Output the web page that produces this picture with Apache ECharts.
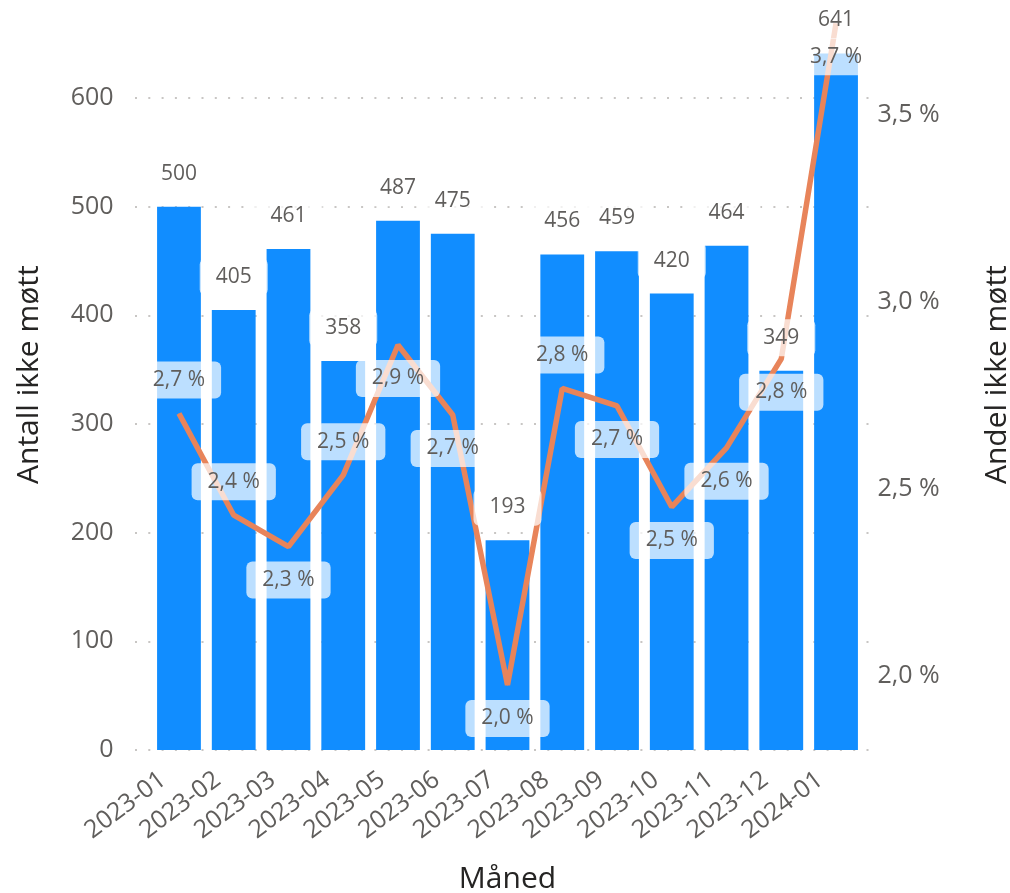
<!DOCTYPE html>
<html>
<head>
<meta charset="utf-8">
<script src="https://cdn.jsdelivr.net/npm/echarts@6/dist/echarts.min.js"></script>
<style>html,body{margin:0;padding:0;background:#fff}#c{width:1010px;height:893px}</style>
</head>
<body>
<div id="c"></div>
<script>
const categories = ['2023-01','2023-02','2023-03','2023-04','2023-05','2023-06','2023-07','2023-08','2023-09','2023-10','2023-11','2023-12','2024-01'];
const antall = [500, 405, 461, 358, 487, 475, 193, 456, 459, 420, 464, 349, 641];
const andel = [2.702, 2.430, 2.346, 2.537, 2.885, 2.698, 1.976, 2.769, 2.722, 2.452, 2.610, 2.848, 3.745];
const leftTicks = [0, 100, 200, 300, 400, 500, 600];
const rightTicks = [2.0, 2.5, 3.0, 3.5];

// label placement for the line labels (style, not data)
const lineLabelBelow = [false, false, true, false, true, true, true, false, true, true, true, true, true];

const FONT = '"Segoe UI", "Open Sans", sans-serif';
const GRAY = '#605E5C';
const DARK = '#252423';
const fmtPct = v => v.toFixed(1).replace('.', ',') + ' %';

const gridTop = -10.7, gridBottom = 143;
const leftMax = 700;
const rightMin = 1.80214, rightMax = 3.8361;

const labelBox = {
  backgroundColor: 'rgba(255,255,255,0.72)',
  borderRadius: 6,
  padding: [8, 16],
  fontSize: 21,
  color: GRAY,
  fontFamily: FONT
};

const chart = echarts.init(document.getElementById('c'), null, {renderer: 'canvas'});
chart.setOption({
  animation: false,
  backgroundColor: '#fff',
  grid: [
    {left: 151.6, right: 146.6, top: gridTop, bottom: gridBottom, outerBoundsMode: 'none', containLabel: false},
    {left: 135, right: 133, top: gridTop, bottom: gridBottom, outerBoundsMode: 'none', containLabel: false}
  ],
  xAxis: [
    {
      type: 'category', gridIndex: 0, data: categories,
      axisLine: {show: false}, axisTick: {show: false},
      axisLabel: {rotate: 37, fontSize: 25, color: GRAY, fontFamily: FONT, margin: 15, padding: [0, 20, 0, 0], interval: 0},
      name: 'Måned', nameLocation: 'middle', nameGap: 114,
      nameTextStyle: {fontSize: 30, color: DARK, fontFamily: FONT}
    },
    {type: 'value', gridIndex: 1, show: false, min: 0, max: 1}
  ],
  yAxis: [
    {
      type: 'value', gridIndex: 0, min: 0, max: leftMax, interval: 100,
      axisLine: {show: false}, axisTick: {show: false}, splitLine: {show: false},
      axisLabel: {fontSize: 25, color: GRAY, fontFamily: FONT, margin: 38, showMaxLabel: false,
        formatter: v => leftTicks.includes(v) ? String(v) : ''},
      name: 'Antall ikke møtt', nameLocation: 'middle', nameRotate: 90, nameGap: 107,
      nameTextStyle: {fontSize: 30, color: DARK, fontFamily: FONT, padding: [0, 10, 0, 0]}
    },
    {
      type: 'value', gridIndex: 0, position: 'right', min: rightMin, max: rightMax,
      axisLine: {show: false}, axisTick: {show: false}, splitLine: {show: false},
      axisLabel: {customValues: rightTicks, fontSize: 25, color: GRAY, fontFamily: FONT, margin: 14, formatter: fmtPct},
      name: 'Andel ikke møtt', nameLocation: 'middle', nameRotate: 90, nameGap: 119,
      nameTextStyle: {fontSize: 30, color: DARK, fontFamily: FONT, padding: [0, 10, 0, 0]}
    },
    {
      type: 'value', gridIndex: 1, min: 0, max: leftMax, interval: 100,
      axisLine: {show: false}, axisTick: {show: false}, axisLabel: {show: false},
      splitLine: {show: true, lineStyle: {color: '#C8C6C4', width: 2, type: [2, 11.3]}}
    }
  ],
  series: [
    {
      type: 'bar', name: 'Antall ikke møtt', xAxisIndex: 0, yAxisIndex: 0, z: 2,
      data: antall, barCategoryGap: '20%', barGap: '-100%',
      itemStyle: {color: '#118DFF'}
    },
    {
      type: 'line', name: 'Andel ikke møtt', xAxisIndex: 0, yAxisIndex: 1, z: 3,
      data: andel.map((v, i) => ({value: v, label: {position: lineLabelBelow[i] ? 'bottom' : 'top'}})),
      symbol: 'circle', symbolSize: 1, showSymbol: true,
      lineStyle: {color: '#E8845A', width: 5.5},
      itemStyle: {color: '#E8845A'},
      label: Object.assign({show: true, distance: 14.5, formatter: p => fmtPct(p.value)}, labelBox)
    },
    {
      // label layer for the bars, drawn above the line
      type: 'bar', name: 'Antall ikke møtt (etiketter)', xAxisIndex: 0, yAxisIndex: 0, z: 4,
      data: antall, barCategoryGap: '20%', barGap: '-100%', silent: true,
      itemStyle: {color: 'rgba(0,0,0,0)'},
      label: Object.assign({show: true, position: 'top', distance: 14.5}, labelBox)
    }
  ]
});
</script>
</body>
</html>
